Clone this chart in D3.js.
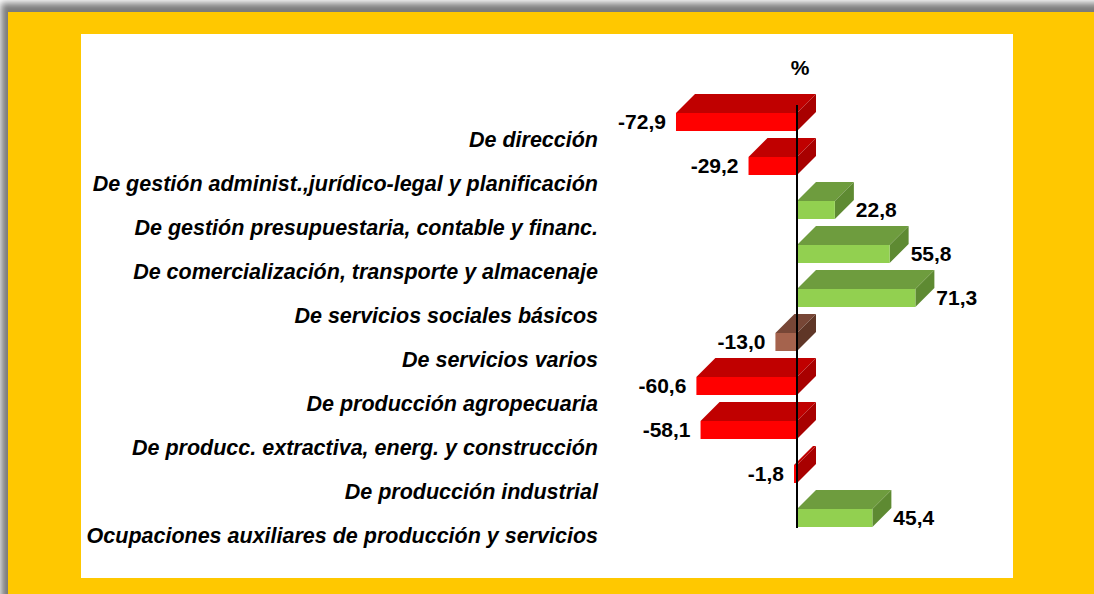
<!DOCTYPE html>
<html>
<head>
<meta charset="utf-8">
<script src="https://cdn.jsdelivr.net/npm/d3@7"></script>
<style>
html,body{margin:0;padding:0;background:#ffffff;}
svg{display:block;}
text{font-family:"Liberation Sans",Arial,sans-serif;font-weight:bold;fill:#000;}
</style>
</head>
<body>
<script>
const categories = [
  "De dirección",
  "De gestión administ.,jurídico-legal y planificación",
  "De gestión presupuestaria, contable y financ.",
  "De comercialización, transporte y almacenaje",
  "De servicios sociales básicos",
  "De servicios varios",
  "De producción agropecuaria",
  "De producc. extractiva, energ. y construcción",
  "De producción industrial",
  "Ocupaciones auxiliares de producción y servicios"
];
const values = [-72.9, -29.2, 22.8, 55.8, 71.3, -13.0, -60.6, -58.1, -1.8, 45.4];
const valueLabels = ["-72,9", "-29,2", "22,8", "55,8", "71,3", "-13,0", "-60,6", "-58,1", "-1,8", "45,4"];
const colorGroups = ["neg", "neg", "pos", "pos", "pos", "brown", "neg", "neg", "neg", "pos"];
const unitLabel = "%";

const palettes = {
  neg:   {front: "#ff0000", top: "#c00000", side: "#a80000"},
  pos:   {front: "#92d050", top: "#6e9c3e", side: "#5e8a32"},
  brown: {front: "#a5634d", top: "#774636", side: "#5f3627"}
};

const W = 1094, H = 594;
const svg = d3.select("body").append("svg").attr("width", W).attr("height", H);

const defs = svg.append("defs");
const f = defs.append("filter").attr("id", "sh").attr("x", "-10%").attr("y", "-10%").attr("width", "120%").attr("height", "120%");
f.append("feGaussianBlur").attr("stdDeviation", 3.5);

// frame shadow + yellow frame + white panel
svg.append("rect").attr("x", 1).attr("y", 3).attr("width", W + 20).attr("height", H + 20)
  .attr("fill", "#7a7a7a").attr("filter", "url(#sh)");
svg.append("rect").attr("x", 8).attr("y", 12).attr("width", W).attr("height", H)
  .attr("fill", "#ffc800");
svg.append("rect").attr("x", 81).attr("y", 34).attr("width", 932).attr("height", 544)
  .attr("fill", "#ffffff");

const x = d3.scaleLinear().domain([-80, 80]).range([664.2, 929.8]);
const y = d3.scaleBand().domain(categories).range([117, 557]).padding(0);

const depth = 19, barH = 18, frontOffset = -26;

// category labels
svg.append("g").selectAll("text").data(categories).join("text")
  .attr("x", 598)
  .attr("y", d => y(d) + y.bandwidth() / 2)
  .attr("dy", "0.35em")
  .attr("text-anchor", "end")
  .attr("font-style", "italic")
  .attr("font-size", 21.5)
  .text(d => d);

const data = categories.map((c, i) => ({c, v: values[i], lab: valueLabels[i], pal: palettes[colorGroups[i]]}));

const bars = svg.append("g").selectAll("g").data(data).join("g");
bars.each(function(d) {
  const g = d3.select(this);
  const x0 = x(Math.min(0, d.v)), x1 = x(Math.max(0, d.v));
  const top = y(d.c) + y.bandwidth() / 2 + frontOffset;
  g.append("polygon")
    .attr("points", [[x0, top], [x0 + depth, top - depth], [x1 + depth, top - depth], [x1, top]].map(p => p.join(",")).join(" "))
    .attr("fill", d.pal.top);
  g.append("polygon")
    .attr("points", [[x1, top], [x1 + depth, top - depth], [x1 + depth, top - depth + barH], [x1, top + barH]].map(p => p.join(",")).join(" "))
    .attr("fill", d.pal.side);
  g.append("rect").attr("x", x0).attr("y", top).attr("width", x1 - x0).attr("height", barH)
    .attr("fill", d.pal.front);
});

// zero line
svg.append("line")
  .attr("x1", x(0)).attr("x2", x(0))
  .attr("y1", y(categories[0]) + y.bandwidth() / 2 + frontOffset - 8)
  .attr("y2", y(categories[categories.length - 1]) + y.bandwidth() / 2 + frontOffset + barH + 1)
  .attr("stroke", "#000").attr("stroke-width", 2);

// value labels
svg.append("g").selectAll("text").data(data).join("text")
  .attr("x", d => d.v < 0 ? x(d.v) - 10 : x(d.v) + 21)
  .attr("y", d => y(d.c) + y.bandwidth() / 2 + frontOffset + barH / 2)
  .attr("dy", "0.35em")
  .attr("text-anchor", d => d.v < 0 ? "end" : "start")
  .attr("font-size", 21)
  .text(d => d.lab);

svg.append("text").attr("x", x(0) + 3).attr("y", 68).attr("dy", "0.35em")
  .attr("text-anchor", "middle").attr("font-size", 21).text(unitLabel);
</script>
</body>
</html>
